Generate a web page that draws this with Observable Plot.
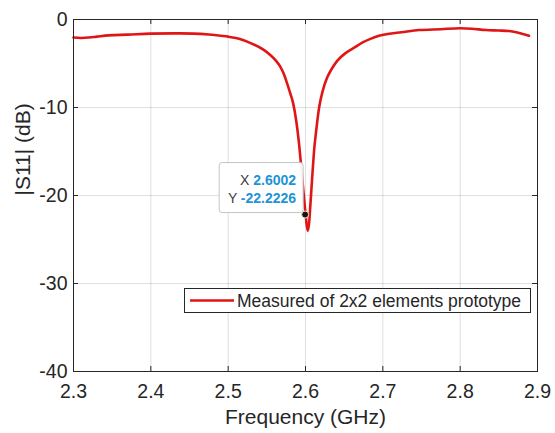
<!DOCTYPE html>
<html>
<head>
<meta charset="utf-8">
<script src="https://cdn.jsdelivr.net/npm/d3@7"></script>
<script src="https://cdn.jsdelivr.net/npm/@observablehq/plot@0.6"></script>
<style>
  html, body { margin: 0; padding: 0; background: #fff; }
  #chart { width: 555px; height: 433px; }
</style>
</head>
<body>
<div id="chart"></div>
<script>
// ---- data ----
const freq = [2.300, 2.310, 2.320, 2.330, 2.345, 2.370, 2.400, 2.430, 2.455, 2.475, 2.490, 2.500,
  2.510, 2.520, 2.532, 2.545, 2.554, 2.562, 2.567, 2.572, 2.576, 2.580, 2.584, 2.588, 2.591,
  2.594, 2.5965, 2.5985, 2.6002, 2.6018, 2.6032, 2.6048, 2.6065, 2.609, 2.611, 2.614, 2.6176,
  2.622, 2.628, 2.634, 2.641, 2.652, 2.663, 2.674, 2.684, 2.695, 2.706, 2.724, 2.747, 2.775,
  2.800, 2.815, 2.833, 2.850, 2.863, 2.875, 2.889];
const s11 = [-2.05, -2.10, -2.05, -1.95, -1.80, -1.72, -1.60, -1.58, -1.60, -1.70, -1.85, -1.95,
  -2.10, -2.35, -2.80, -3.40, -4.00, -4.70, -5.30, -6.20, -7.20, -8.30, -9.50, -11.5, -13.6,
  -16.3, -18.8, -20.7, -22.2226, -23.5, -24.0, -23.0, -20.8, -17.5, -15.0, -12.5, -10.0,
  -8.2, -6.6, -5.6, -4.7, -3.8, -3.2, -2.6, -2.2, -1.85, -1.65, -1.45, -1.20, -1.10,
  -1.00, -1.05, -1.20, -1.25, -1.30, -1.50, -1.85];
const xTicks = [2.3, 2.4, 2.5, 2.6, 2.7, 2.8, 2.9];
const yTicks = [0, -10, -20, -30, -40];
const tipX = 2.6002;
const tipY = -22.2226;
const seriesName = "Measured of 2x2 elements prototype";
const xLabel = "Frequency (GHz)";
const yLabel = "|S11| (dB)";

const data = freq.map((f, i) => ({f, v: s11[i]}));

const W = 555, H = 433;
const mL = 73, mR = 18, mT = 19, mB = 62;
const pw = W - mL - mR, ph = H - mT - mB;
const axisColor = "#262626";
const red = "#e01616";
const font = "'Liberation Sans', Arial, Helvetica, sans-serif";

const chart = Plot.plot({
  width: W, height: H,
  marginLeft: mL, marginRight: mR, marginTop: mT, marginBottom: mB,
  style: {fontFamily: font, background: "#fff", color: axisColor, overflow: "visible"},
  x: {domain: [2.3, 2.9]},
  y: {domain: [-40, 0]},
  marks: [
    Plot.gridX({ticks: xTicks, stroke: axisColor, strokeOpacity: 0.15}),
    Plot.gridY({ticks: yTicks, stroke: axisColor, strokeOpacity: 0.15}),
    Plot.line(data, {x: "f", y: "v", stroke: red, strokeWidth: 2.6, curve: "monotone-x"}),
    Plot.frame({stroke: axisColor, strokeWidth: 1}),
    // inward tick marks on all four sides
    Plot.ruleX(xTicks, {x: d => d, insetTop: ph - 5, stroke: axisColor}),
    Plot.ruleX(xTicks, {x: d => d, insetBottom: ph - 5, stroke: axisColor}),
    Plot.ruleY(yTicks, {y: d => d, insetRight: pw - 5, stroke: axisColor}),
    Plot.ruleY(yTicks, {y: d => d, insetLeft: pw - 5, stroke: axisColor}),
    Plot.axisX({ticks: xTicks, tickSize: 0, tickPadding: 13, fontSize: 19.5, label: null,
      tickFormat: d => d.toFixed(1), fill: axisColor}),
    Plot.axisY({ticks: yTicks, tickSize: 0, tickPadding: 6, fontSize: 19.5, label: null,
      tickFormat: d => String(d), fill: axisColor}),
    Plot.text([xLabel], {text: d => d, frameAnchor: "bottom", dy: 52, fontSize: 21, fill: axisColor}),
    Plot.text([yLabel], {text: d => d, frameAnchor: "left", dx: -50, rotate: -90, fontSize: 21, fill: axisColor})
  ]
});
document.getElementById("chart").appendChild(chart);

// ---- legend & datatip overlays ----
const svg = d3.select(chart);
const sx = chart.scale("x"), sy = chart.scale("y");

// legend (inside the axes, lower right)
const lg = svg.append("g").attr("text-anchor", "start");
lg.append("rect").attr("x", 184.5).attr("y", 288.5).attr("width", 346).attr("height", 24)
  .attr("fill", "#fff").attr("stroke", axisColor).attr("stroke-width", 1);
lg.append("line").attr("x1", 190).attr("x2", 234).attr("y1", 300.5).attr("y2", 300.5)
  .attr("stroke", red).attr("stroke-width", 2.6);
lg.append("text").attr("x", 237).attr("y", 300.5).attr("dy", "0.35em").attr("text-anchor", "start")
  .attr("font-size", 17.5).attr("fill", axisColor).attr("font-family", font).text(seriesName);

// datatip
const px = sx.apply(tipX), py = sy.apply(tipY);
const tg = svg.append("g").attr("font-family", font).attr("font-size", 14);
tg.append("rect").attr("x", px - 86).attr("y", py - 52).attr("width", 84).attr("height", 50)
  .attr("rx", 3).attr("fill", "#fff").attr("fill-opacity", 0.95)
  .attr("stroke", "#c4c4c4").attr("stroke-width", 1);
const t1 = tg.append("text").attr("x", px - 9).attr("y", py - 29.5).attr("text-anchor", "end");
t1.append("tspan").attr("fill", "#404040").text("X ");
t1.append("tspan").attr("fill", "#1f93d6").attr("font-weight", "bold").text(tipX.toFixed(4));
const t2 = tg.append("text").attr("x", px - 9).attr("y", py - 11.3).attr("text-anchor", "end");
t2.append("tspan").attr("fill", "#404040").text("Y ");
t2.append("tspan").attr("fill", "#1f93d6").attr("font-weight", "bold").text(tipY.toFixed(4));
tg.append("circle").attr("cx", px).attr("cy", py).attr("r", 3.5)
  .attr("fill", "#151515").attr("stroke", "#f2e6cc").attr("stroke-width", 1);
</script>
</body>
</html>
